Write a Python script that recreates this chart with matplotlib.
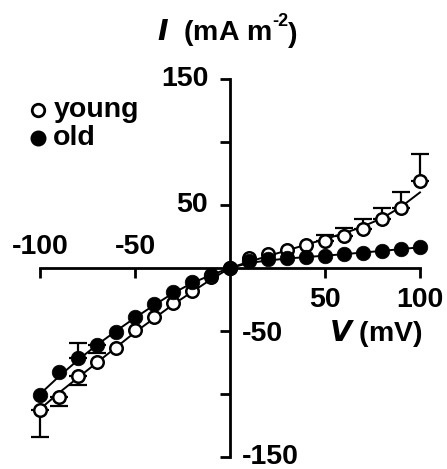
import numpy as np
import matplotlib
matplotlib.use("Agg")
import matplotlib.pyplot as plt

plt.rcParams["font.family"] = "Liberation Sans"
plt.rcParams["font.weight"] = "bold"

# Membrane potential (mV)
voltage = [-100, -90, -80, -70, -60, -50, -40, -30, -20, -10, 0,
           10, 20, 30, 40, 50, 60, 70, 80, 90, 100]

# Mean current density (mA m-2)
young = [-112.7, -102, -86, -74.3, -63.8, -49, -39, -28, -18.3, -7, 0,
         7.7, 11, 14.3, 18.3, 21.7, 25.4, 31, 38.6, 48, 69]
old = [-100.8, -82.3, -71.7, -61, -50.5, -39, -28.6, -18.8, -10.8, -5.6, 0,
       5.8, 6.9, 7.7, 8.5, 9.5, 11, 12.2, 13.8, 14.8, 16.4]

# one-sided SEM bars (lower, upper)
young_err_lo = [21.7, 7.5, 7, 0, 0, 0, 0, 0, 0, 0, 0,
                0, 0, 0, 0, 0, 0, 0, 0, 0, 0]
young_err_hi = [0, 0, 0, 0, 0, 0, 0, 0, 0, 0, 0,
                0, 0, 0, 0, 4.3, 6.6, 7.6, 9.4, 12.6, 21.5]
old_err_lo = [0, 0, 0, 6.5, 0, 0, 0, 0, 0, 0, 0,
              0, 0, 0, 0, 0, 0, 0, 0, 0, 0]
old_err_hi = [0, 0, 12, 0, 0, 0, 0, 0, 0, 0, 0,
              0, 0, 0, 0, 0, 0, 0, 0, 0, 0]

# fitted curves
young_fit = [-112, -99, -87, -75, -63, -51, -40, -29, -19, -9, 0,
             5, 9.5, 14, 18.5, 23, 27.5, 33, 39.5, 48.5, 60]
old_fit = [-100, -86, -73, -61, -50, -39.5, -29.5, -20, -12, -5.5, 0,
           4, 6, 7.5, 8.7, 9.8, 11, 12.3, 13.6, 15, 16.5]

v = np.array(voltage)

fig = plt.figure(figsize=(4.47, 4.69), dpi=100)
ax = fig.add_axes([0.047, 0.012, 0.935, 0.833])
ax.set_xlim(-110, 110)
ax.set_ylim(-155, 155)

# fit lines
ax.plot(v, young_fit, color="black", lw=1.4, zorder=2, clip_on=False)
ax.plot(v, old_fit, color="black", lw=1.4, zorder=2, clip_on=False)

# error bars, only where drawn
for vals, lo, hi in [(young, young_err_lo, young_err_hi), (old, old_err_lo, old_err_hi)]:
    lo = np.array(lo)
    hi = np.array(hi)
    m = (lo > 0) | (hi > 0)
    ax.errorbar(v[m], np.array(vals)[m], yerr=[lo[m], hi[m]], fmt="none",
                ecolor="black", elinewidth=1.6, capsize=6.5, capthick=1.6,
                zorder=3, clip_on=False)

ax.plot(v, young, "o", ms=9, mfc="white", mec="black", mew=1.8,
        zorder=4, clip_on=False)
ax.plot(v, old, "o", ms=10.5, mfc="black", mec="black", mew=0.5,
        zorder=5, clip_on=False)

# axes through the origin
for side in ["top", "right"]:
    ax.spines[side].set_visible(False)
ax.spines["left"].set_position(("data", 0))
ax.spines["bottom"].set_position(("data", 0))
ax.spines["left"].set_bounds(-150, 150)
ax.spines["bottom"].set_bounds(-100, 100)
ax.spines["left"].set_linewidth(2)
ax.spines["bottom"].set_linewidth(2)
ax.set_xticks([-100, -50, 50, 100])
ax.set_yticks([-150, -100, -50, 50, 100, 150])
ax.tick_params(direction="out", length=7.5, width=2, labelbottom=False, labelleft=False)
ax.patch.set_visible(False)

fs = 20.5
ax.text(-11.5, 150, "150", ha="right", va="center", fontsize=fs)
ax.text(-11.5, 50, "50", ha="right", va="center", fontsize=fs)
ax.text(6.5, -52, "-50", ha="left", va="center", fontsize=fs)
ax.text(6.5, -150, "-150", ha="left", va="center", fontsize=fs)
ax.text(-100, 6, "-100", ha="center", va="bottom", fontsize=fs)
ax.text(-50, 6, "-50", ha="center", va="bottom", fontsize=fs)
ax.text(50, -15, "50", ha="center", va="top", fontsize=fs)
ax.text(100, -15, "100", ha="center", va="top", fontsize=fs)
ax.text(101.5, -52, r"$\boldsymbol{V}$ (mV)", ha="right", va="center", fontsize=fs)

# title: I (mA m^-2) with a plain hyphen in the exponent
t1 = fig.text(157 / 447, 1 - 33 / 469, r"$\boldsymbol{I}$  (mA m",
              ha="left", va="center", fontsize=fs)
t2 = ax.annotate("-2", xy=(1.0, 0.6), xycoords=t1, ha="left", va="bottom",
                 fontsize=13, annotation_clip=False)
ax.annotate(")", xy=(1.0, 0.0), xycoords=(t2, t1), ha="left", va="bottom",
            fontsize=fs, annotation_clip=False)

# legend
ax.plot([-101], [125.4], "o", ms=9, mfc="white", mec="black", mew=2, clip_on=False)
ax.plot([-101], [103.2], "o", ms=10.5, mfc="black", mec="black", clip_on=False)
ax.text(-93, 125.4, "young", ha="left", va="center", fontsize=fs)
ax.text(-93, 103.2, "old", ha="left", va="center", fontsize=fs)

fig.savefig("out.png", dpi=100)
